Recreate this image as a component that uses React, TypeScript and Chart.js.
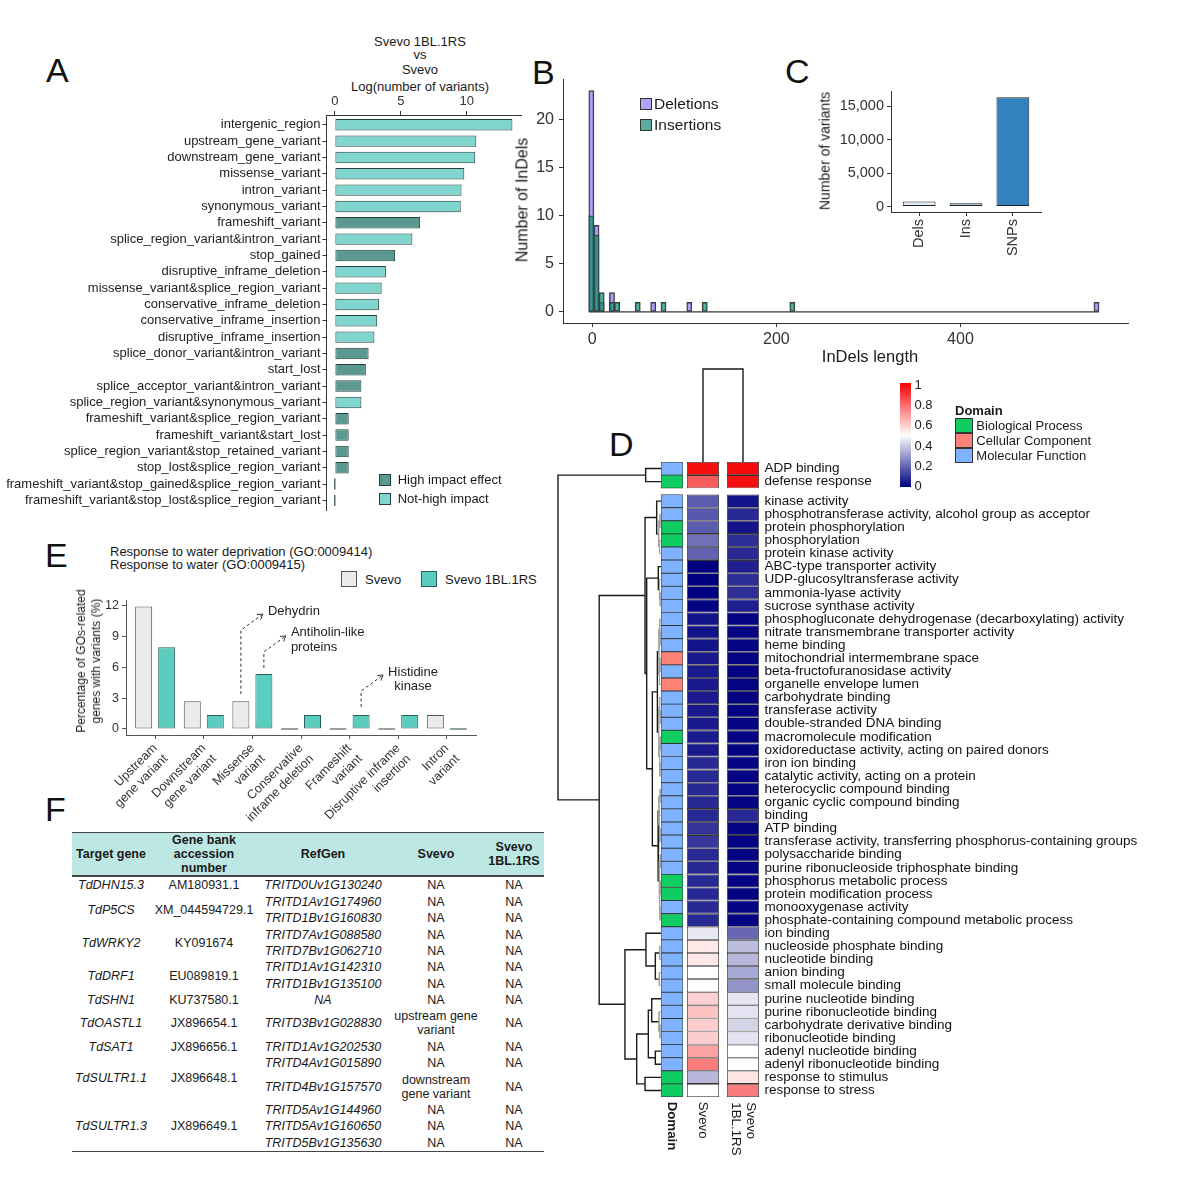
import React, { useEffect, useRef } from 'react';
import { Chart, registerables } from 'chart.js';

Chart.register(...registerables);
const FONT = "'Liberation Sans', Arial, Helvetica, sans-serif";
Chart.defaults.font.family = FONT;
Chart.defaults.color = '#222';

/* ================= Panel A data ================= */
const A_CATEGORIES = [
  'intergenic_region', 'upstream_gene_variant', 'downstream_gene_variant', 'missense_variant',
  'intron_variant', 'synonymous_variant', 'frameshift_variant', 'splice_region_variant&intron_variant',
  'stop_gained', 'disruptive_inframe_deletion', 'missense_variant&splice_region_variant',
  'conservative_inframe_deletion', 'conservative_inframe_insertion', 'disruptive_inframe_insertion',
  'splice_donor_variant&intron_variant', 'start_lost', 'splice_acceptor_variant&intron_variant',
  'splice_region_variant&synonymous_variant', 'frameshift_variant&splice_region_variant',
  'frameshift_variant&start_lost', 'splice_region_variant&stop_retained_variant',
  'stop_lost&splice_region_variant', 'frameshift_variant&stop_gained&splice_region_variant',
  'frameshift_variant&stop_lost&splice_region_variant',
];
const A_LOG_VARIANTS = [13.47, 10.73, 10.65, 9.82, 9.61, 9.55, 6.47, 5.88, 4.57, 3.87, 3.55, 3.34, 3.21, 3.0, 2.56, 2.35, 2.01, 2.01, 1.05, 1.05, 1.05, 1.05, 0, 0];
const A_HIGH_IMPACT = [0, 0, 0, 0, 0, 0, 1, 0, 1, 0, 0, 0, 0, 0, 1, 1, 1, 0, 1, 1, 1, 1, 1, 1];
const A_X_TICKS = [0, 5, 10];

/* ================= Panel B data ================= */
const B_BIN_WIDTH = 5.6;
const B_BIN_CENTERS = [-1, 4.6, 10.2, 21.4, 27, 49.4, 66.2, 77.4, 105.4, 122.2, 217.4, 547.8];
const B_DELETIONS = [23, 9, 1, 2, 0, 0, 1, 0, 1, 0, 0, 1];
const B_INSERTIONS = [10, 8, 2, 1, 1, 1, 0, 1, 0, 1, 1, 0];
const B_X_TICKS = [0, 200, 400];
const B_Y_TICKS = [0, 5, 10, 15, 20];

/* ================= Panel C data ================= */
const C_CATEGORIES = ['Dels', 'Ins', 'SNPs'];
const C_VALUES = [745, 506, 16340];
const C_Y_TICKS = [0, 5000, 10000, 15000];

/* ================= Panel D data ================= */
const D_TERMS = [
  'ADP binding', 'defense response', 'kinase activity', 'phosphotransferase activity, alcohol group as acceptor',
  'protein phosphorylation', 'phosphorylation', 'protein kinase activity', 'ABC-type transporter activity',
  'UDP-glucosyltransferase activity', 'ammonia-lyase activity', 'sucrose synthase activity',
  'phosphogluconate dehydrogenase (decarboxylating) activity', 'nitrate transmembrane transporter activity',
  'heme binding', 'mitochondrial intermembrane space', 'beta-fructofuranosidase activity',
  'organelle envelope lumen', 'carbohydrate binding', 'transferase activity', 'double-stranded DNA binding',
  'macromolecule modification', 'oxidoreductase activity, acting on paired donors', 'iron ion binding',
  'catalytic activity, acting on a protein', 'heterocyclic compound binding', 'organic cyclic compound binding',
  'binding', 'ATP binding', 'transferase activity, transferring phosphorus-containing groups',
  'polysaccharide binding', 'purine ribonucleoside triphosphate binding', 'phosphorus metabolic process',
  'protein modification process', 'monooxygenase activity', 'phosphate-containing compound metabolic process',
  'ion binding', 'nucleoside phosphate binding', 'nucleotide binding', 'anion binding', 'small molecule binding',
  'purine nucleotide binding', 'purine ribonucleotide binding', 'carbohydrate derivative binding',
  'ribonucleotide binding', 'adenyl nucleotide binding', 'adenyl ribonucleotide binding',
  'response to stimulus', 'response to stress',
];
const D_DOMAIN = [
  'MF', 'BP', 'MF', 'MF', 'BP', 'BP', 'MF', 'MF', 'MF', 'MF', 'MF', 'MF', 'MF', 'MF', 'CC', 'MF', 'CC',
  'MF', 'MF', 'MF', 'BP', 'MF', 'MF', 'MF', 'MF', 'MF', 'MF', 'MF', 'MF', 'MF', 'MF', 'BP', 'BP', 'MF',
  'BP', 'MF', 'MF', 'MF', 'MF', 'MF', 'MF', 'MF', 'MF', 'MF', 'MF', 'MF', 'BP', 'BP',
];
const D_DOMAIN_NAMES = ['Biological Process', 'Cellular Component', 'Molecular Function'];
const D_DOMAIN_KEYS = ['BP', 'CC', 'MF'];
const D_SVEVO = [
  0.97, 0.82, 0.18, 0.17, 0.18, 0.22, 0.19, 0.0, 0.0, 0.0, 0.01, 0.04, 0.04, 0.04, 0.05, 0.05, 0.05,
  0.05, 0.05, 0.05, 0.05, 0.05, 0.08, 0.08, 0.08, 0.08, 0.08, 0.1, 0.11, 0.08, 0.08, 0.08, 0.08, 0.08,
  0.08, 0.455, 0.545, 0.545, 0.5, 0.5, 0.59, 0.62, 0.6, 0.6, 0.68, 0.755, 0.36, 0.5,
];
const D_SVEVO_1BL = [
  0.98, 0.97, 0.04, 0.08, 0.04, 0.09, 0.08, 0.06, 0.09, 0.09, 0.06, 0.01, 0.01, 0.01, 0.01, 0.01, 0.01,
  0.01, 0.01, 0.01, 0.01, 0.01, 0.01, 0.01, 0.01, 0.01, 0.08, 0.01, 0.01, 0.01, 0.01, 0.01, 0.01, 0.01,
  0.01, 0.2, 0.37, 0.36, 0.33, 0.29, 0.45, 0.445, 0.415, 0.445, 0.5, 0.5, 0.55, 0.755,
];
const D_COLUMNS = ['Svevo', 'Svevo 1BL.1RS'];
const D_COLUMN_MERGE_HEIGHT = 1;
// hierarchical clustering of rows: [left, right, height]; leaves are row indices
const D_ROW_TREE = [
  [0, 1, 14.9],
  [
    [
      [2, [[3, 4, 1.0], [5, 6, 1.4], 2.2], 4.2],
      [
        [7, [8, [9, 10, 0.8], 1.5], 2.6],
        [
          [
            [[11, [12, 13, 0.6], 1.2], [[14, 15, 0.9], 16, 1.4], 2.0],
            [[17, [18, 19, 0.7], 1.3], [[20, 21, 0.8], [22, 23, 1.0], 1.6], 2.2],
            3.5,
          ],
          [
            [[24, 25, 0.8], [26, [27, 28, 0.9], 1.5], 2.0],
            [[29, 30, 0.7], [[31, 32, 0.6], [33, 34, 0.9], 1.3], 1.8],
            2.8,
          ],
          8.4,
        ],
        13.9,
      ],
      15.5,
    ],
    [
      [35, [[36, 37, 1.2], [38, 39, 1.6], 5.5], 14.6],
      [[[40, [41, [42, 43, 1.0], 2.0], 9.0], [44, 45, 5.5], 12.3], [46, 47, 15.5], 23.6],
      35,
    ],
    60,
  ],
  100,
];
const D_GAPS_AFTER = [1];
const D_LEGEND_TICKS = [1, 0.8, 0.6, 0.4, 0.2, 0];

/* ================= Panel E data ================= */
const E_CATEGORIES = [
  ['Upstream', 'gene variant'], ['Downstream', 'gene variant'], ['Missense', 'variant'],
  ['Conservative', 'inframe deletion'], ['Frameshift', 'variant'], ['Disruptive inframe', 'insertion'],
  ['Intron', 'variant'],
];
const E_SVEVO = [11.9, 2.7, 2.7, 0, 0, 0, 1.35];
const E_SVEVO_1BL = [7.95, 1.35, 5.35, 1.35, 1.35, 1.35, 0];
const E_Y_TICKS = [0, 3, 6, 9, 12];
const E_ANNOTATIONS = [
  { dataset: 0, index: 2, lines: ['Dehydrin'], align: 'left' },
  { dataset: 1, index: 2, lines: ['Antiholin-like', 'proteins'], align: 'left' },
  { dataset: 1, index: 4, lines: ['Histidine', 'kinase'], align: 'center' },
];

/* ================= Panel F data ================= */
const F_HEADERS = ['Target gene', 'Gene bank\naccession\nnumber', 'RefGen', 'Svevo', 'Svevo\n1BL.1RS'];
const F_TARGET_GENES = ['TdDHN15.3', 'TdP5CS', 'TdWRKY2', 'TdDRF1', 'TdSHN1', 'TdOASTL1', 'TdSAT1', 'TdSULTR1.1', 'TdSULTR1.3'];
const F_ACCESSIONS = ['AM180931.1', 'XM_044594729.1', 'KY091674', 'EU089819.1', 'KU737580.1', 'JX896654.1', 'JX896656.1', 'JX896648.1', 'JX896649.1'];
const F_REFGEN = [
  ['TRITD0Uv1G130240'], ['TRITD1Av1G174960', 'TRITD1Bv1G160830'], ['TRITD7Av1G088580', 'TRITD7Bv1G062710'],
  ['TRITD1Av1G142310', 'TRITD1Bv1G135100'], ['NA'], ['TRITD3Bv1G028830'], ['TRITD1Av1G202530'],
  ['TRITD4Av1G015890', 'TRITD4Bv1G157570'], ['TRITD5Av1G144960', 'TRITD5Av1G160650', 'TRITD5Bv1G135630'],
];
const F_SVEVO = [['NA'], ['NA', 'NA'], ['NA', 'NA'], ['NA', 'NA'], ['NA'], ['upstream gene variant'], ['NA'], ['NA', 'downstream gene variant'], ['NA', 'NA', 'NA']];
const F_SVEVO_1BL = [['NA'], ['NA', 'NA'], ['NA', 'NA'], ['NA', 'NA'], ['NA'], ['NA'], ['NA'], ['NA', 'NA'], ['NA', 'NA', 'NA']];

/* ================= styles ================= */
const A_LIGHT = '#80d6ce';
const A_DARK = '#5b9990';
const A_BORDER = '#22403c';
const DEL_FILL = 'rgba(123,104,238,0.6)';
const INS_FILL = 'rgba(20,140,115,0.7)';
const C_FILLS = ['#deebf7', '#9ecae1', '#3182bd'];
const E_GRAY = '#ebebeb';
const E_TEAL = '#5bcdbf';
const DOMAIN_COLORS = { BP: '#10cc62', CC: '#fa8276', MF: '#80b3ff' };
const HEAT_LOW = [0, 0, 128];
const HEAT_MID = [255, 255, 255];
const HEAT_HIGH = [245, 0, 0];

function heatColor(v) {
  const [c0, c1, t] = v < 0.5 ? [HEAT_LOW, HEAT_MID, v / 0.5] : [HEAT_MID, HEAT_HIGH, (v - 0.5) / 0.5];
  const c = c0.map((a, k) => Math.round(a + (c1[k] - a) * t));
  return `rgb(${c[0]},${c[1]},${c[2]})`;
}

const D_GAP = 0.49;
const dRowPos = (i) => i + D_GAP * D_GAPS_AFTER.filter((g) => i > g).length;
const D_Y_MAX = D_TERMS.length + D_GAP * D_GAPS_AFTER.length;

function baseOptions(padding) {
  return {
    animation: false,
    responsive: false,
    maintainAspectRatio: false,
    events: [],
    layout: { padding },
    plugins: { legend: { display: false }, tooltip: { enabled: false }, title: { display: false } },
  };
}

function axis({ min, max, ticks, position, size, fontSize, color = '#333', tickLen = 4, pad = 3, callback = null, reverse = false, rotation = 0, labelColor = '#333' }) {
  return {
    type: 'linear', position, min, max, reverse, bounds: 'data', offset: false,
    afterBuildTicks: (s) => { s.ticks = ticks.map((v) => ({ value: v })); },
    afterFit: (s) => { if (s.isHorizontal()) s.height = size; else s.width = size; },
    grid: { display: true, drawOnChartArea: false, drawTicks: true, tickLength: tickLen, color, offset: false },
    border: { display: true, color, width: 1 },
    ticks: {
      autoSkip: false, color: labelColor, font: { size: fontSize }, padding: pad,
      minRotation: rotation, maxRotation: rotation,
      callback: callback || ((v) => String(v)),
    },
  };
}

/* ================= chart configs ================= */
function makeA() {
  return {
    type: 'bar',
    data: {
      datasets: [{
        data: A_LOG_VARIANTS.map((v, i) => ({ x: v, y: i })),
        backgroundColor: A_HIGH_IMPACT.map((h) => (h ? A_DARK : A_LIGHT)),
        borderColor: A_BORDER, borderWidth: 1, borderSkipped: false,
        barPercentage: 0.7, categoryPercentage: 1, minBarLength: 1.5,
      }],
    },
    options: {
      ...baseOptions({ left: 0, right: 8.5, top: 0, bottom: 8 }),
      indexAxis: 'y',
      scales: {
        x: axis({ min: -0.674, max: 14.16, ticks: A_X_TICKS, position: 'top', size: 35, fontSize: 13, pad: 2, tickLen: 4 }),
        y: axis({
          min: -0.6, max: 23.6, reverse: true, ticks: A_CATEGORIES.map((_, i) => i), position: 'left', size: 326,
          fontSize: 13, pad: 2, tickLen: 3.5, labelColor: '#222', callback: (v) => A_CATEGORIES[v],
        }),
      },
    },
  };
}

function makeB() {
  const first = B_BIN_CENTERS[0] - B_BIN_WIDTH / 2;
  const last = B_BIN_CENTERS[B_BIN_CENTERS.length - 1] + B_BIN_WIDTH / 2;
  const bars = (vals, fill, order, label) => ({
    label, order,
    data: B_BIN_CENTERS.map((x, i) => ({ x, y: vals[i] })),
    backgroundColor: fill, borderColor: '#3a3a3a', borderWidth: 1, borderSkipped: false,
    grouped: false, barPercentage: 1, categoryPercentage: 1,
  });
  return {
    type: 'bar',
    data: {
      datasets: [
        bars(B_INSERTIONS, INS_FILL, 1, 'Insertions'),
        bars(B_DELETIONS, DEL_FILL, 2, 'Deletions'),
        { type: 'line', order: 0, data: [{ x: first, y: 0 }, { x: last, y: 0 }], borderColor: '#3a3a3a', borderWidth: 1.3, pointRadius: 0 },
      ],
    },
    options: {
      ...baseOptions({ left: 0, right: 6.5, top: 10.5, bottom: 0 }),
      scales: {
        x: axis({ min: -31.8, max: 582.6, ticks: B_X_TICKS, position: 'bottom', size: 30, fontSize: 16, pad: 3 }),
        y: axis({ min: -1.15, max: 24.15, ticks: B_Y_TICKS, position: 'left', size: 58, fontSize: 16, pad: 5 }),
      },
    },
  };
}

function makeC() {
  return {
    type: 'bar',
    data: {
      datasets: [{
        data: C_VALUES.map((v, i) => ({ x: i, y: v })),
        backgroundColor: C_FILLS, borderColor: '#1e1e1e', borderWidth: 1, borderSkipped: false,
        barPercentage: 0.7, categoryPercentage: 1,
      }],
    },
    options: {
      ...baseOptions({ left: 0, right: 9, top: 10.3, bottom: 0 }),
      scales: {
        x: axis({ min: -0.6, max: 2.6, ticks: [0, 1, 2], position: 'bottom', size: 50, fontSize: 14.5, pad: 3, rotation: 90, callback: (v) => C_CATEGORIES[v] }),
        y: axis({ min: -818, max: 17188, ticks: C_Y_TICKS, position: 'left', size: 76, fontSize: 14.5, pad: 3, callback: (v) => Number(v).toLocaleString('en-US') }),
      },
    },
  };
}

const D_PAD_V = 12;
const dYScale = () => ({ type: 'linear', min: 0, max: D_Y_MAX, reverse: true, display: false });

function makeHeat() {
  return {
    type: 'bar',
    data: {
      labels: D_COLUMNS,
      datasets: [D_SVEVO, D_SVEVO_1BL].map((vals, c) => ({
        data: vals.map((v, i) => ({ x: D_COLUMNS[c], y: [dRowPos(i), dRowPos(i) + 1] })),
        backgroundColor: vals.map(heatColor),
        borderColor: '#333', borderWidth: 0.8, borderSkipped: false,
        grouped: false, barPercentage: 0.8, categoryPercentage: 1,
      })),
    },
    options: {
      ...baseOptions({ left: 8, right: 0, top: D_PAD_V, bottom: D_PAD_V }),
      scales: {
        x: { type: 'category', display: false, offset: true },
        y: {
          type: 'linear', position: 'right', min: 0, max: D_Y_MAX, reverse: true, bounds: 'data',
          afterBuildTicks: (s) => { s.ticks = D_TERMS.map((_, i) => ({ value: dRowPos(i) + 0.5 })); },
          afterFit: (s) => { s.width = 387; },
          grid: { display: false, drawTicks: false, tickLength: 0 }, border: { display: false },
          ticks: { autoSkip: false, padding: 1.5, font: { size: 13.5 }, color: '#111', callback: (v, idx) => D_TERMS[idx] },
        },
      },
    },
  };
}

function makeDomain() {
  return {
    type: 'bar',
    data: {
      labels: ['Domain'],
      datasets: [{
        data: D_DOMAIN.map((d, i) => ({ x: 'Domain', y: [dRowPos(i), dRowPos(i) + 1] })),
        backgroundColor: D_DOMAIN.map((d) => DOMAIN_COLORS[d]),
        borderColor: '#333', borderWidth: 0.8, borderSkipped: false,
        barPercentage: 1, categoryPercentage: 1,
      }],
    },
    options: {
      ...baseOptions({ left: 6, right: 6, top: D_PAD_V, bottom: D_PAD_V }),
      scales: { x: { type: 'category', display: false, offset: true }, y: dYScale() },
    },
  };
}

function layoutTree(node, segs) {
  if (typeof node === 'number') return { y: dRowPos(node) + 0.5, h: 0 };
  const [l, r, h] = node;
  const a = layoutTree(l, segs);
  const b = layoutTree(r, segs);
  segs.push({ h, points: [{ x: a.h, y: a.y }, { x: h, y: a.y }, { x: h, y: b.y }, { x: b.h, y: b.y }] });
  return { y: (a.y + b.y) / 2, h };
}

function makeRowDendro() {
  const segs = [];
  layoutTree(D_ROW_TREE, segs);
  return {
    type: 'scatter',
    data: {
      datasets: segs.map((s) => ({
        data: s.points, showLine: true, pointRadius: 0, tension: 0, clip: false,
        borderColor: s.h < 2.5 ? '#a3a3a3' : '#1a1a1a', borderWidth: s.h < 2.5 ? 1 : 1.4,
      })),
    },
    options: {
      ...baseOptions({ left: 8, right: 1, top: D_PAD_V, bottom: D_PAD_V }),
      scales: { x: { type: 'linear', min: 0, max: D_ROW_TREE[2], reverse: true, display: false }, y: dYScale() },
    },
  };
}

function makeColDendro() {
  const [c0, c1] = D_COLUMNS;
  return {
    type: 'line',
    data: {
      labels: D_COLUMNS,
      datasets: [{
        data: [{ x: c0, y: 0 }, { x: c0, y: D_COLUMN_MERGE_HEIGHT }, { x: c1, y: D_COLUMN_MERGE_HEIGHT }, { x: c1, y: 0 }],
        borderColor: '#1a1a1a', borderWidth: 1.4, pointRadius: 0, clip: false, tension: 0,
      }],
    },
    options: {
      ...baseOptions({ left: 8, right: 7, top: 9, bottom: 1 }),
      scales: {
        x: { type: 'category', display: false, offset: true },
        y: { type: 'linear', min: 0, max: D_COLUMN_MERGE_HEIGHT, display: false },
      },
    },
  };
}

const E_ARROW_LAYOUT = [{ gap: 7, rise: 71 }, { gap: 6, rise: 22 }, { gap: 8, rise: 24 }];
const eArrowPlugin = {
  id: 'eArrows',
  afterDatasetsDraw(chart) {
    const { ctx } = chart;
    E_ANNOTATIONS.forEach((a, k) => {
      const bar = chart.getDatasetMeta(a.dataset).data[a.index];
      if (!bar) return;
      const { gap, rise } = E_ARROW_LAYOUT[k];
      const x0 = bar.x;
      const yStart = bar.y - gap;
      const yBend = bar.y - rise;
      const tipX = x0 + 22;
      const tipY = yBend - 16;
      ctx.save();
      ctx.strokeStyle = '#333';
      ctx.lineWidth = 1;
      ctx.setLineDash([3, 2.5]);
      ctx.beginPath();
      ctx.moveTo(x0, yStart);
      ctx.lineTo(x0, yBend);
      ctx.lineTo(tipX, tipY);
      ctx.stroke();
      ctx.setLineDash([]);
      const ang = Math.atan2(tipY - yBend, tipX - x0);
      const hl = 6;
      ctx.beginPath();
      ctx.moveTo(tipX - hl * Math.cos(ang - 0.55), tipY - hl * Math.sin(ang - 0.55));
      ctx.lineTo(tipX, tipY);
      ctx.lineTo(tipX - hl * Math.cos(ang + 0.55), tipY - hl * Math.sin(ang + 0.55));
      ctx.stroke();
      ctx.fillStyle = '#222';
      ctx.font = `13px ${FONT}`;
      ctx.textBaseline = 'middle';
      const left = tipX + 5;
      const w0 = ctx.measureText(a.lines[0]).width;
      a.lines.forEach((ln, j) => {
        const y = tipY - 3 + j * 14.5;
        if (a.align === 'center') {
          ctx.textAlign = 'center';
          ctx.fillText(ln, left + w0 / 2, y);
        } else {
          ctx.textAlign = 'left';
          ctx.fillText(ln, left, y);
        }
      });
      ctx.restore();
    });
  },
};

function makeE() {
  const bars = (vals, fill, border, label) => ({
    label,
    data: vals.map((v, i) => ({ x: i, y: v })),
    backgroundColor: fill, borderColor: border, borderWidth: 1, borderSkipped: false,
    categoryPercentage: 0.946, barPercentage: 0.74, minBarLength: 1.5,
  });
  return {
    type: 'bar',
    data: { datasets: [bars(E_SVEVO, E_GRAY, '#555', 'Svevo'), bars(E_SVEVO_1BL, E_TEAL, '#2d5f5a', 'Svevo 1BL.1RS')] },
    options: {
      ...baseOptions({ left: 0, right: 14, top: 9, bottom: 0 }),
      scales: {
        x: axis({ min: -0.6, max: 6.6, ticks: E_CATEGORIES.map((_, i) => i), position: 'bottom', size: 95, fontSize: 12.5, pad: 2, rotation: 45, color: '#555', callback: (v) => E_CATEGORIES[v] }),
        y: axis({ min: -0.595, max: 12.495, ticks: E_Y_TICKS, position: 'left', size: 66, fontSize: 12.5, pad: 3, color: '#555' }),
      },
    },
    plugins: [eArrowPlugin],
  };
}

/* ================= components ================= */
function ChartCanvas({ x, y, w, h, make }) {
  const ref = useRef(null);
  useEffect(() => {
    const chart = new Chart(ref.current, make());
    return () => chart.destroy();
  }, []);
  return <canvas ref={ref} width={w} height={h} style={{ position: 'absolute', left: x, top: y, width: w, height: h }} />;
}

function Txt({ x, y, size = 13, align = 'left', bold = false, italic = false, color = '#1a1a1a', lh = 0, children }) {
  const lineH = lh || size * 1.2;
  const style = {
    position: 'absolute', top: y - lineH / 2, fontSize: size, lineHeight: `${lineH}px`, fontFamily: FONT,
    fontWeight: bold ? 700 : 400, fontStyle: italic ? 'italic' : 'normal', color, whiteSpace: 'pre',
  };
  if (align === 'left') style.left = x;
  else if (align === 'center') { style.left = x; style.transform = 'translateX(-50%)'; style.textAlign = 'center'; }
  else { style.right = 1200 - x; style.textAlign = 'right'; }
  return <div style={style}>{children}</div>;
}

function RotTxt({ cx, cy, angle, size = 13, lh = 0, bold = false, children }) {
  const lineH = lh || size * 1.2;
  return (
    <div style={{
      position: 'absolute', left: cx, top: cy, transform: `translate(-50%, -50%) rotate(${angle}deg)`,
      fontSize: size, lineHeight: `${lineH}px`, fontFamily: FONT, fontWeight: bold ? 700 : 400,
      whiteSpace: 'pre', textAlign: 'center', color: '#1a1a1a',
    }}>{children}</div>
  );
}

function ColLabel({ cx, y0, size = 13.3, bold = false, lines }) {
  const lh = size * 1.15;
  const h = lines.length * lh;
  return (
    <div style={{
      position: 'absolute', left: cx, top: y0 - h / 2, height: h, transformOrigin: '0 50%', transform: 'rotate(90deg)',
      fontSize: size, lineHeight: `${lh}px`, fontFamily: FONT, fontWeight: bold ? 700 : 400, whiteSpace: 'pre', color: '#1a1a1a',
    }}>{lines.join('\n')}</div>
  );
}

function Box({ x, y, w, h, fill, border = '#333', bw = 1 }) {
  return <div style={{ position: 'absolute', left: x, top: y, width: w, height: h, background: fill, border: `${bw}px solid ${border}`, boxSizing: 'border-box' }} />;
}

function Letter({ x, y, children }) {
  return <div style={{ position: 'absolute', left: x, top: y, fontSize: 34, lineHeight: '34px', fontFamily: FONT, color: '#111' }}>{children}</div>;
}

function TableF() {
  const widths = [78, 108, 130, 96, 60];
  const cell = { padding: '1.2px 0', textAlign: 'center', verticalAlign: 'middle', lineHeight: '14px' };
  const th = { ...cell, padding: '0.4px 0', fontWeight: 700, background: '#bde7e3', borderTop: '1.5px solid #444', borderBottom: '2px solid #444', whiteSpace: 'pre' };
  const rows = [];
  F_TARGET_GENES.forEach((g, gi) => {
    const n = F_REFGEN[gi].length;
    F_REFGEN[gi].forEach((ref, j) => {
      rows.push(
        <tr key={`${gi}-${j}`}>
          {j === 0 && <td rowSpan={n} style={{ ...cell, fontStyle: 'italic' }}>{g}</td>}
          {j === 0 && <td rowSpan={n} style={cell}>{F_ACCESSIONS[gi]}</td>}
          <td style={{ ...cell, fontStyle: 'italic' }}>{ref}</td>
          <td style={cell}>{F_SVEVO[gi][j]}</td>
          <td style={cell}>{F_SVEVO_1BL[gi][j]}</td>
        </tr>,
      );
    });
  });
  return (
    <table style={{
      position: 'absolute', left: 72, top: 831.5, width: 472, borderCollapse: 'collapse', tableLayout: 'fixed',
      fontFamily: FONT, fontSize: 12.5, color: '#1a1a1a', borderBottom: '1.5px solid #444',
    }}>
      <colgroup>{widths.map((w, i) => <col key={i} style={{ width: w }} />)}</colgroup>
      <thead><tr>{F_HEADERS.map((h, i) => <th key={i} style={th}>{h}</th>)}</tr></thead>
      <tbody>{rows}</tbody>
    </table>
  );
}

export default function App() {
  const legendTop = 383.3;
  const legendBottom = 485.7;
  return (
    <div style={{ position: 'absolute', left: 0, top: 0, width: 1200, height: 1193, background: '#fff', overflow: 'hidden', fontFamily: FONT }}>
      {/* panel letters */}
      <Letter x={46} y={53}>A</Letter>
      <Letter x={532} y={54.6}>B</Letter>
      <Letter x={785} y={54}>C</Letter>
      <Letter x={609} y={426.6}>D</Letter>
      <Letter x={45} y={537.6}>E</Letter>
      <Letter x={45} y={791.6}>F</Letter>

      {/* ---------- Panel A ---------- */}
      <Txt x={420} y={41.7} align="center">Svevo 1BL.1RS</Txt>
      <Txt x={420} y={55} align="center">vs</Txt>
      <Txt x={420} y={69.3} align="center">Svevo</Txt>
      <Txt x={420} y={86.7} align="center">Log(number of variants)</Txt>
      <ChartCanvas x={0} y={80} w={530} h={440} make={makeA} />
      <Box x={379} y={474} w={11.5} h={11.5} fill={A_DARK} border={A_BORDER} />
      <Box x={379} y={493} w={11.5} h={11.5} fill={A_LIGHT} border={A_BORDER} />
      <Txt x={397.7} y={479.7}>High impact effect</Txt>
      <Txt x={397.7} y={498.7}>Not-high impact</Txt>

      {/* ---------- Panel B ---------- */}
      <ChartCanvas x={505} y={65} w={630} h={288} make={makeB} />
      <RotTxt cx={522} cy={200} angle={-90} size={16}>Number of InDels</RotTxt>
      <Txt x={870} y={356.7} size={16.5} align="center">InDels length</Txt>
      <Box x={640} y={98} w={12} h={12} fill={DEL_FILL} border="#333" />
      <Box x={640} y={119} w={12} h={12} fill={INS_FILL} border="#333" />
      <Txt x={654} y={104} size={15.5}>Deletions</Txt>
      <Txt x={654} y={125} size={15.5}>Insertions</Txt>

      {/* ---------- Panel C ---------- */}
      <ChartCanvas x={815} y={80} w={235} h={182} make={makeC} />
      <RotTxt cx={825.3} cy={151} angle={-90} size={14}>Number of variants</RotTxt>

      {/* ---------- Panel D ---------- */}
      <ChartCanvas x={675} y={360} w={95} h={103} make={makeColDendro} />
      <ChartCanvas x={550} y={450} w={112} h={659} make={makeRowDendro} />
      <ChartCanvas x={675} y={450} w={475} h={659} make={makeHeat} />
      <ChartCanvas x={655} y={450} w={34} h={659} make={makeDomain} />
      <ColLabel cx={672} y0={1102} bold lines={['Domain']} />
      <ColLabel cx={703} y0={1102} lines={['Svevo']} />
      <ColLabel cx={743.5} y0={1102} lines={['Svevo', '1BL.1RS']} />
      <div style={{
        position: 'absolute', left: 900, top: legendTop, width: 11, height: legendBottom - legendTop + 1.5,
        background: `linear-gradient(to bottom, ${heatColor(1)} 0%, ${heatColor(0.5)} 50%, ${heatColor(0)} 100%)`,
      }} />
      {D_LEGEND_TICKS.map((t) => (
        <Txt key={t} x={914.5} y={legendBottom - t * (legendBottom - legendTop - 1.7)} size={13}>{String(t)}</Txt>
      ))}
      <Txt x={955} y={410.7} size={13} bold>Domain</Txt>
      {D_DOMAIN_KEYS.map((k, i) => (
        <React.Fragment key={k}>
          <Box x={955} y={417.7 + i * 15} w={17.5} h={15} fill={DOMAIN_COLORS[k]} border="#333" />
          <Txt x={976.3} y={426.2 + i * 15} size={13}>{D_DOMAIN_NAMES[i]}</Txt>
        </React.Fragment>
      ))}

      {/* ---------- Panel E ---------- */}
      <Txt x={110} y={551.7} size={13}>Response to water deprivation (GO:0009414)</Txt>
      <Txt x={110} y={565} size={13}>Response to water (GO:0009415)</Txt>
      <Box x={341} y={571} w={16} h={16} fill={E_GRAY} border="#555" />
      <Txt x={365} y={579.3} size={13}>Svevo</Txt>
      <Box x={420.5} y={571} w={16} h={16} fill={E_TEAL} border="#2d5f5a" />
      <Txt x={445} y={579.3} size={13}>Svevo 1BL.1RS</Txt>
      <ChartCanvas x={60} y={590} w={430} h={240} make={makeE} />
      <RotTxt cx={89} cy={661} angle={-90} size={12} lh={15}>{'Percentage of GOs-related\ngenes with variants (%)'}</RotTxt>

      {/* ---------- Panel F ---------- */}
      <TableF />
    </div>
  );
}
